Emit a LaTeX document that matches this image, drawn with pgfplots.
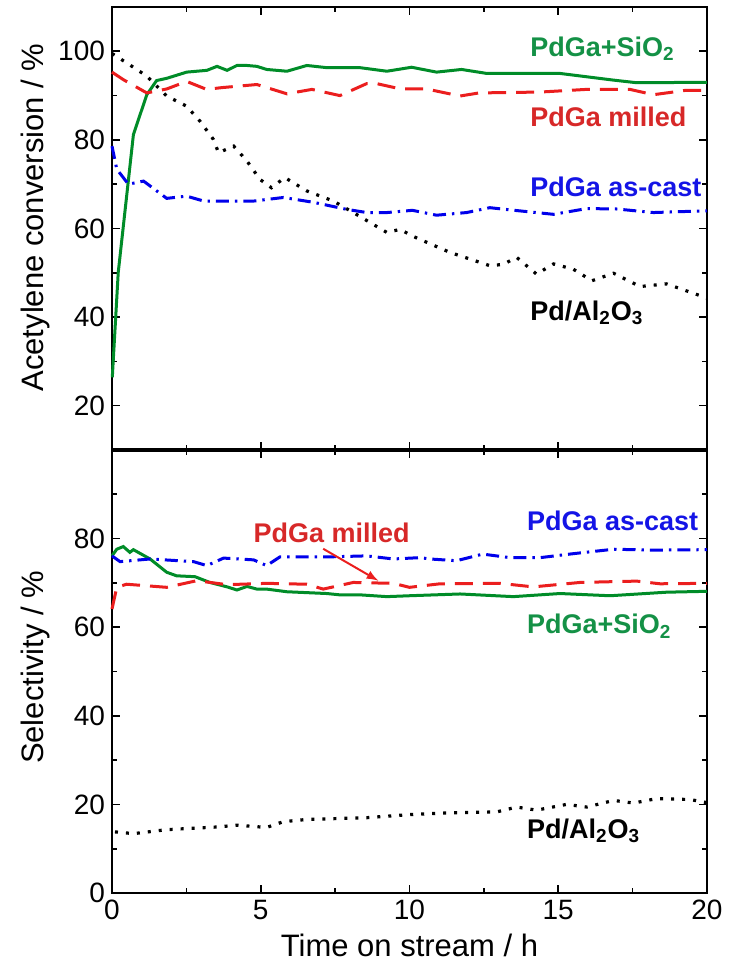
\documentclass[border=0pt]{standalone}
\usepackage{pgfplots}
\pgfplotsset{compat=1.18}
\usepackage{fontspec}
\setmainfont{Liberation Sans}
\definecolor{cgreen}{RGB}{0,140,40}
\definecolor{cred}{RGB}{235,30,30}
\definecolor{cblue}{RGB}{0,0,235}
\definecolor{tgreen}{RGB}{20,145,70}
\definecolor{tred}{RGB}{215,40,40}
\definecolor{tblue}{RGB}{20,20,230}
\tikzset{
  sgreen/.style={cgreen, line width=1.5pt},
  sred/.style={cred, line width=1.5pt, dash pattern=on 9pt off 5pt},
  sblue/.style={cblue, line width=1.5pt, dash pattern=on 6.5pt off 3pt on 1.2pt off 3pt},
  sblack/.style={black, line width=1.6pt, dash pattern=on 1.5pt off 4pt},
  lab/.style={font=\fontsize{13.5}{16}\selectfont\bfseries, anchor=base west, inner sep=0pt},
}
\pgfplotsset{
  panel/.style={
    width=297.5pt, height=221.5pt, scale only axis,
    xmin=0, xmax=20, xtick={0,5,...,20}, minor xtick={2.5,7.5,12.5,17.5},
    tick align=inside, major tick length=4pt, minor tick length=2.5pt,
    axis line style={line width=1pt},
    every tick/.style={black, line width=0.8pt},
    ticklabel style={font=\fontsize{14}{16}\selectfont},
    /pgf/number format/assume math mode=true,
    label style={font=\fontsize{15.5}{18}\selectfont},
    clip=false,
  },
}
\begin{document}
\begin{tikzpicture}
\path[use as bounding box] (-56pt,-38.5pt) rectangle (308.5pt,446.5pt);
% top panel
\begin{axis}[panel, at={(0,221.5pt)},
  ymin=10, ymax=110, ytick={20,40,...,100}, minor ytick={30,50,70,90},
  xticklabels={},
  ylabel={Acetylene conversion / \%},
  ylabel style={at={(axis description cs:-0.129,0.525)}, anchor=center},
]
\addplot[sgreen] coordinates {(0.01,26.4) (0.21,50.1) (0.72,81.2) (1.17,90.2) (1.5,93.4) (1.84,93.9) (2.51,95.3) (3.19,95.7) (3.53,96.6) (3.87,95.7) (4.2,96.8) (4.54,96.8) (4.87,96.6) (5.2,95.9) (5.88,95.5) (6.55,96.8) (7.23,96.3) (8.34,96.3) (9.24,95.5) (10.07,96.4) (10.91,95.3) (11.75,95.9) (12.6,95.0) (15.06,95.0) (16.85,93.5) (17.64,92.9) (19.88,93.0) (20,93.0)};
\addplot[sred] coordinates {(0,95.3) (0.38,93.6) (1.17,90.6) (1.84,91.5) (2.51,93.2) (3.18,91.4) (3.69,91.8) (4.87,92.5) (5.88,90.4) (6.72,91.4) (7.66,90.0) (8.56,92.7) (8.9,92.7) (9.7,91.5) (10.57,91.5) (11.7,89.9) (12.33,90.6) (14.39,90.8) (15.95,91.4) (17.41,91.4) (18.2,90.2) (19.3,91.2) (20,91.2)};
\addplot[sblue] coordinates {(0,78.6) (0.16,73.4) (0.55,70.0) (1.06,70.7) (1.84,66.8) (2.51,67.3) (3.08,66.2) (4.77,66.2) (5.76,67.0) (6.78,65.9) (7.9,64.3) (8.57,63.6) (9.24,63.6) (10.1,64.1) (10.91,63.0) (11.92,63.6) (12.7,64.7) (13.38,64.2) (14.84,63.2) (15.96,64.5) (16.97,64.4) (18.2,63.6) (20,64.0)};
\addplot[sblack] coordinates {(0,99.5) (0.49,97.4) (1.17,94.4) (1.84,89.9) (2.51,87.6) (2.96,84.2) (3.41,80.1) (3.58,77.1) (4.09,78.6) (4.54,75.2) (4.97,71.1) (5.36,69.2) (5.81,71.5) (6.54,68.5) (7.44,66.2) (8.11,63.6) (9.24,59.1) (9.68,59.8) (10.13,58.2) (11.36,54.6) (12.7,51.6) (13.15,51.9) (13.6,53.5) (14.27,49.7) (14.84,52.0) (15.51,50.8) (16.13,48.2) (16.86,49.9) (17.75,46.9) (18.64,47.5) (20,44.3)};
\node[lab, text=tgreen] at (axis cs:14.05,98.9) {PdGa+SiO\textsubscript{2}};
\node[lab, text=tred] at (axis cs:14.05,83.1) {PdGa milled};
\node[lab, text=tblue] at (axis cs:14.05,67.3) {PdGa as-cast};
\node[lab, text=black] at (axis cs:14.05,39.2) {Pd/Al\textsubscript{2}O\textsubscript{3}};
\draw[line width=2pt] (rel axis cs:0,0) -- (rel axis cs:1,0);
\end{axis}
% bottom panel
\begin{axis}[panel, at={(0,0)},
  ymin=0, ymax=100, ytick={0,20,...,80}, minor ytick={10,30,50,70,90},
  xlabel={Time on stream / h},
  xlabel style={at={(axis description cs:0.5,0)}, yshift=-26pt, anchor=center},
  ylabel={Selectivity / \%},
  ylabel style={at={(axis description cs:-0.129,0.509)}, anchor=center},
]
\addplot[sgreen] coordinates {(0,76.1) (0.16,77.6) (0.38,78.2) (0.6,76.9) (0.72,77.5) (1.28,75.4) (1.84,72.4) (2.17,71.6) (2.79,71.4) (3.29,70.1) (3.87,69.1) (4.2,68.4) (4.54,69.2) (4.87,68.6) (5.2,68.6) (5.88,68.0) (7.22,67.6) (7.66,67.3) (8.34,67.3) (9.24,66.9) (10.0,67.1) (11.7,67.5) (13.49,66.9) (15.06,67.6) (16.74,67.1) (18.64,67.9) (20,68.1)};
\addplot[sred] coordinates {(0,64.1) (0.16,69.0) (0.49,69.7) (1.84,69.0) (2.85,70.5) (3.87,69.6) (5.2,69.9) (6.55,69.7) (7.1,68.6) (8.11,70.1) (9.46,69.9) (10.0,69.0) (11.03,69.8) (13.04,69.9) (14.16,69.1) (15.73,70.1) (16.96,70.3) (17.64,70.4) (18.42,69.8) (20,69.9)};
\addplot[sblue] coordinates {(0,76.1) (0.27,74.8) (1.28,75.4) (2.74,74.8) (3.19,73.9) (3.75,75.6) (4.76,75.2) (5.2,73.9) (5.65,75.9) (7.44,75.9) (8.56,76.1) (9.46,75.4) (10.35,75.7) (10.69,75.4) (11.58,75.0) (12.46,76.5) (13.38,75.7) (14.39,75.7) (15.51,76.6) (16.86,77.6) (18.2,77.4) (20,77.5)};
\addplot[sblack] coordinates {(0.1,13.8) (0.72,13.4) (1.84,14.3) (3.53,14.9) (4.2,15.3) (5.2,14.8) (5.76,16.1) (6.54,16.6) (8.56,17.0) (10.0,17.7) (11.36,18.1) (12.93,18.3) (13.6,19.4) (14.27,18.7) (15.28,20.0) (15.96,19.4) (16.86,20.9) (17.53,20.3) (18.3,21.3) (19.43,21.1) (20,20.4)};
\node[lab, text=tred] at (axis cs:4.75,79.1) {PdGa milled};
\node[lab, text=tblue] at (axis cs:13.94,81.9) {PdGa as-cast};
\node[lab, text=tgreen] at (axis cs:13.94,58.5) {PdGa+SiO\textsubscript{2}};
\node[lab, text=black] at (axis cs:13.94,12.3) {Pd/Al\textsubscript{2}O\textsubscript{3}};
\draw[cred, line width=1pt, -latex] (axis cs:7.1,77.7) -- (axis cs:8.95,70.5);
\end{axis}
\end{tikzpicture}
\end{document}
